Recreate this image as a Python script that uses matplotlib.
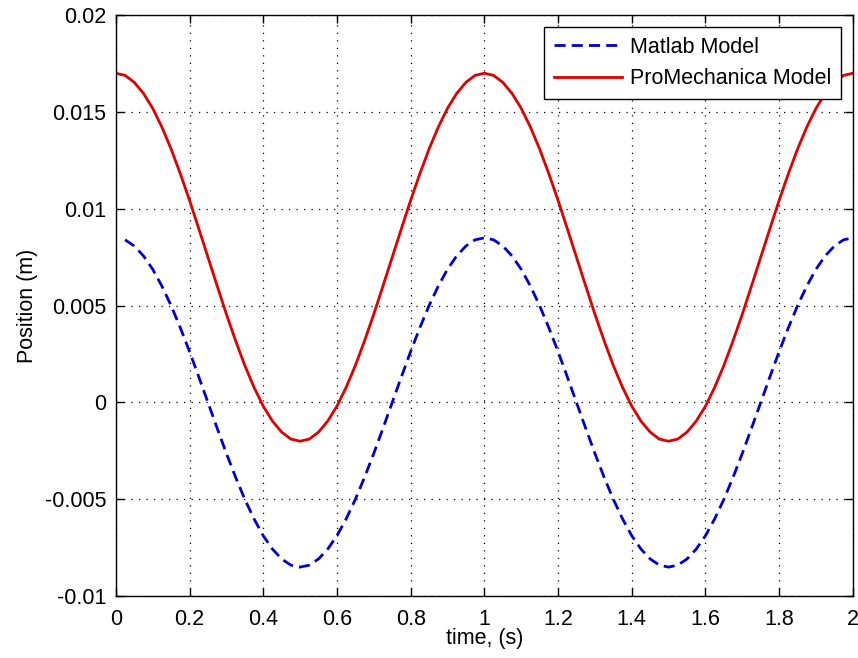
import numpy as np
import matplotlib
matplotlib.use("Agg")
import matplotlib.pyplot as plt

# time base, 0 to 2 s every 0.025 s
t = np.arange(81) * 0.025

# ProMechanica model position (m)
promech = [
    0.01700, 0.01689, 0.01653, 0.01596, 0.01519, 0.01422, 0.01309, 0.01181, 0.01044, 0.00898,
    0.00750, 0.00602, 0.00456, 0.00319, 0.00191, 0.00078, -0.00019, -0.00096, -0.00153, -0.00189,
    -0.00200, -0.00189, -0.00153, -0.00096, -0.00019, 0.00078, 0.00191, 0.00319, 0.00456, 0.00602,
    0.00750, 0.00898, 0.01044, 0.01181, 0.01309, 0.01422, 0.01519, 0.01596, 0.01653, 0.01689,
    0.01700, 0.01689, 0.01653, 0.01596, 0.01519, 0.01422, 0.01309, 0.01181, 0.01044, 0.00898,
    0.00750, 0.00602, 0.00456, 0.00319, 0.00191, 0.00078, -0.00019, -0.00096, -0.00153, -0.00189,
    -0.00200, -0.00189, -0.00153, -0.00096, -0.00019, 0.00078, 0.00191, 0.00319, 0.00456, 0.00602,
    0.00750, 0.00898, 0.01044, 0.01181, 0.01309, 0.01422, 0.01519, 0.01596, 0.01653, 0.01689,
    0.01700,
]

# Matlab model position (m), starts one step in
matlab = [
    0.00840, 0.00808, 0.00757, 0.00688, 0.00601, 0.00500, 0.00386, 0.00263, 0.00133,
    0.00000, -0.00133, -0.00263, -0.00386, -0.00500, -0.00601, -0.00688, -0.00757, -0.00808, -0.00840,
    -0.00850, -0.00840, -0.00808, -0.00757, -0.00688, -0.00601, -0.00500, -0.00386, -0.00263, -0.00133,
    0.00000, 0.00133, 0.00263, 0.00386, 0.00500, 0.00601, 0.00688, 0.00757, 0.00808, 0.00840,
    0.00850, 0.00840, 0.00808, 0.00757, 0.00688, 0.00601, 0.00500, 0.00386, 0.00263, 0.00133,
    0.00000, -0.00133, -0.00263, -0.00386, -0.00500, -0.00601, -0.00688, -0.00757, -0.00808, -0.00840,
    -0.00850, -0.00840, -0.00808, -0.00757, -0.00688, -0.00601, -0.00500, -0.00386, -0.00263, -0.00133,
    0.00000, 0.00133, 0.00263, 0.00386, 0.00500, 0.00601, 0.00688, 0.00757, 0.00808, 0.00840,
    0.00850,
]

xticks = [0, 0.2, 0.4, 0.6, 0.8, 1, 1.2, 1.4, 1.6, 1.8, 2]
xticklabels = ["0", "0.2", "0.4", "0.6", "0.8", "1", "1.2", "1.4", "1.6", "1.8", "2"]
yticks = [-0.01, -0.005, 0, 0.005, 0.01, 0.015, 0.02]
yticklabels = ["-0.01", "-0.005", "0", "0.005", "0.01", "0.015", "0.02"]

plt.rcParams['font.family'] = ['Liberation Sans', 'DejaVu Sans']
plt.rcParams['font.size'] = 15.5

fig = plt.figure(figsize=(8.58, 6.58), dpi=100)
ax = fig.add_axes([0.135, 0.094, 0.859, 0.883])

ax.plot(t[1:], matlab, color='#0000d0', lw=2.0, linestyle=(0, (4, 2.2)), label='Matlab Model')
ax.plot(t, promech, color='#e00000', lw=2.0, label='ProMechanica Model')

ax.set_xlim(0, 2)
ax.set_ylim(-0.01, 0.02)
ax.set_xticks(xticks)
ax.set_xticklabels(xticklabels)
ax.set_yticks(yticks)
ax.set_yticklabels(yticklabels)

ax.grid(True, color='black', linestyle=(0, (1, 5)), linewidth=0.9)
ax.tick_params(direction='in', top=True, right=True, length=6, width=1)
ax.tick_params(axis='x', pad=9)
ax.tick_params(axis='y', pad=7)
for s in ax.spines.values():
    s.set_linewidth(1.0)

ax.set_xlabel('time, (s)', labelpad=-1)
ax.set_ylabel('Position (m)', labelpad=5)

leg = ax.legend(loc='upper right', fancybox=False, edgecolor='black', framealpha=1,
                handlelength=3.2, borderaxespad=0.55, borderpad=0.45, labelspacing=0.5,
                handletextpad=0.35)
leg.get_frame().set_linewidth(1.0)

fig.savefig('out.png', dpi=100)
